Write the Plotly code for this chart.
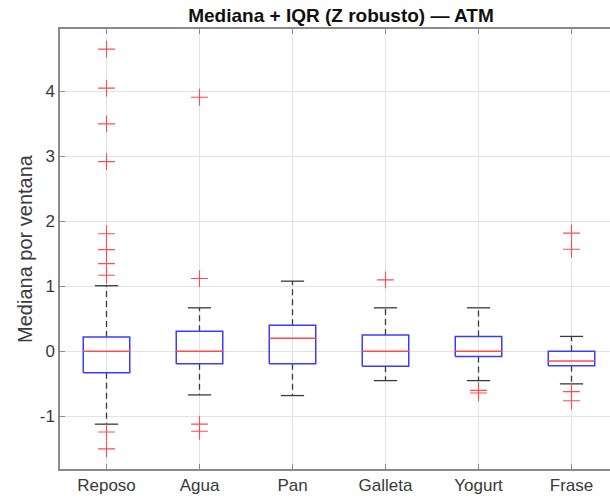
import plotly.graph_objects as go

categories = ["Reposo", "Agua", "Pan", "Galleta", "Yogurt", "Frase"]
q1 = [-0.33, -0.19, -0.19, -0.23, -0.08, -0.22]
medians = [0.00, 0.00, 0.20, 0.00, 0.00, -0.15]
q3 = [0.22, 0.31, 0.40, 0.25, 0.23, 0.00]
lower_whisker = [-1.12, -0.67, -0.68, -0.45, -0.45, -0.50]
upper_whisker = [1.01, 0.67, 1.08, 0.67, 0.67, 0.23]
outliers = [
    [4.65, 4.05, 3.50, 2.92, 1.81, 1.565, 1.35, 1.17, -1.24, -1.50],
    [3.91, 1.12, -1.12, -1.23],
    [],
    [1.10],
    [-0.60, -0.64],
    [1.82, 1.57, -0.62, -0.76],
]
yticks = [-1, 0, 1, 2, 3, 4]
ytick_labels = ["-1", "0", "1", "2", "3", "4"]

BW = 0.25   # half box width
CW = 0.125  # half cap width

pos = list(range(1, len(categories) + 1))

bx, by, mx, my, wx, wy, cx, cy, ox, oy = [], [], [], [], [], [], [], [], [], []
for i, p in enumerate(pos):
    bx += [p - BW, p + BW, p + BW, p - BW, p - BW, None]
    by += [q1[i], q1[i], q3[i], q3[i], q1[i], None]
    mx += [p - BW, p + BW, None]
    my += [medians[i], medians[i], None]
    wx += [p, p, None, p, p, None]
    wy += [q3[i], upper_whisker[i], None, q1[i], lower_whisker[i], None]
    cx += [p - CW, p + CW, None, p - CW, p + CW, None]
    cy += [upper_whisker[i], upper_whisker[i], None, lower_whisker[i], lower_whisker[i], None]
    for v in outliers[i]:
        ox.append(p)
        oy.append(v)

fig = go.Figure()
fig.add_trace(go.Scatter(x=wx, y=wy, mode="lines",
                         line=dict(color="#3a3a3a", width=1.3, dash="6px,4px"),
                         hoverinfo="skip", showlegend=False))
fig.add_trace(go.Scatter(x=cx, y=cy, mode="lines",
                         line=dict(color="#3a3a3a", width=1.3),
                         hoverinfo="skip", showlegend=False))
fig.add_trace(go.Scatter(x=bx, y=by, mode="lines",
                         line=dict(color="#3c3cff", width=1.5),
                         hoverinfo="skip", showlegend=False))
fig.add_trace(go.Scatter(x=mx, y=my, mode="lines",
                         line=dict(color="#ff4c4c", width=1.5),
                         hoverinfo="skip", showlegend=False))
fig.add_trace(go.Scatter(x=ox, y=oy, mode="markers",
                         marker=dict(symbol="cross-thin", size=12,
                                     line=dict(color="#ff4c4c", width=1.1)),
                         hoverinfo="skip", showlegend=False))

axis_col = "#8a8a8a"
fig.update_layout(
    width=610, height=500,
    margin=dict(l=60, r=0, t=29, b=31),
    paper_bgcolor="white", plot_bgcolor="white",
    font=dict(family="Liberation Sans, Arial, sans-serif", color="#3a3a3a", size=17),
    title=dict(text="<b>Mediana + IQR (Z robusto) — ATM</b>",
               x=341 / 610, xanchor="center", y=1 - 15 / 500, yanchor="middle",
               font=dict(size=19, color="#111111")),
    xaxis=dict(range=[0.5, 0.5 + 550 / 93], tickvals=pos, ticktext=categories,
               showgrid=True, gridcolor="#e3e3e3", gridwidth=1,
               showline=True, linecolor=axis_col, linewidth=1.5, mirror="ticks",
               ticks="inside", ticklen=5, tickcolor=axis_col, tickwidth=1,
               zeroline=False, tickfont=dict(size=17, color="#3a3a3a")),
    yaxis=dict(range=[-1.81, 4.96], tickvals=yticks, ticktext=ytick_labels,
               showgrid=True, gridcolor="#e3e3e3", gridwidth=1,
               showline=True, linecolor=axis_col, linewidth=1.5,
               ticks="inside", ticklen=5, tickcolor=axis_col, tickwidth=1,
               zeroline=False, tickfont=dict(size=17, color="#3a3a3a"),
               title=dict(text="Mediana por ventana", standoff=2,
                          font=dict(size=20, color="#3a3a3a"))),
)

fig.write_html("out.html")
